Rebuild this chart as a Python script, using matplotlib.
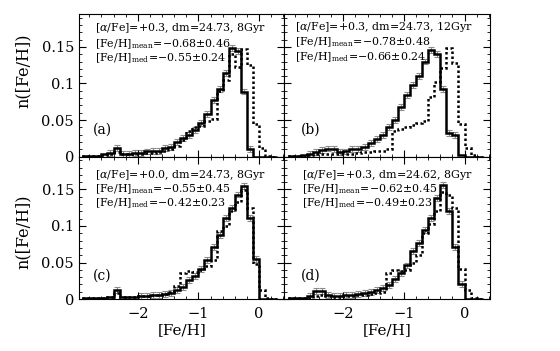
import numpy as np
import matplotlib
matplotlib.use("Agg")
from matplotlib import pyplot as plt
import matplotlib.ticker as ticker

plt.rcParams['font.family'] = ['DejaVu Serif']
plt.rcParams['mathtext.fontset'] = 'dejavuserif'

# bin edges for [Fe/H], 0.1 dex bins
edges = np.round(np.arange(-2.9, 0.31, 0.1), 2)

# (a) alpha=+0.3, dm=24.73, 8Gyr
solid_a = [0.001, 0.001, 0.001, 0.003, 0.005, 0.012, 0.004, 0.004, 0.005, 0.005, 0.007,
           0.008, 0.008, 0.012, 0.013, 0.020, 0.025, 0.030, 0.036, 0.046, 0.058, 0.077,
           0.092, 0.114, 0.148, 0.145, 0.089, 0.010, 0.0, 0.0, 0.0, 0.0]
dot_a = [0.001, 0.001, 0.001, 0.002, 0.003, 0.006, 0.003, 0.003, 0.004, 0.004, 0.005,
         0.005, 0.006, 0.007, 0.010, 0.014, 0.022, 0.035, 0.040, 0.042, 0.048, 0.052,
         0.090, 0.105, 0.140, 0.122, 0.147, 0.125, 0.045, 0.012, 0.001, 0.0]
# (b) alpha=+0.3, dm=24.73, 12Gyr
solid_b = [0.001, 0.001, 0.002, 0.004, 0.006, 0.009, 0.011, 0.010, 0.006, 0.007, 0.010,
           0.010, 0.013, 0.018, 0.024, 0.030, 0.040, 0.050, 0.068, 0.084, 0.098, 0.110,
           0.130, 0.146, 0.140, 0.092, 0.032, 0.030, 0.002, 0.0, 0.0, 0.0]
dot_b = [0.001, 0.001, 0.001, 0.002, 0.003, 0.004, 0.004, 0.004, 0.003, 0.004, 0.004,
         0.005, 0.006, 0.006, 0.008, 0.008, 0.010, 0.035, 0.038, 0.040, 0.043, 0.046,
         0.048, 0.082, 0.102, 0.121, 0.148, 0.128, 0.044, 0.012, 0.002, 0.0]
# (c) alpha=+0.0, dm=24.73, 8Gyr
solid_c = [0.001, 0.001, 0.001, 0.002, 0.003, 0.012, 0.003, 0.003, 0.003, 0.004, 0.004,
           0.005, 0.006, 0.007, 0.008, 0.012, 0.017, 0.026, 0.032, 0.041, 0.053, 0.071,
           0.088, 0.111, 0.125, 0.143, 0.155, 0.111, 0.055, 0.0, 0.0, 0.0]
dot_c = [0.001, 0.001, 0.001, 0.002, 0.003, 0.008, 0.003, 0.003, 0.003, 0.004, 0.004,
         0.005, 0.006, 0.007, 0.009, 0.018, 0.036, 0.038, 0.037, 0.040, 0.045, 0.053,
         0.093, 0.100, 0.120, 0.133, 0.149, 0.125, 0.048, 0.012, 0.001, 0.0]
# (d) alpha=+0.3, dm=24.62, 8Gyr
solid_d = [0.001, 0.001, 0.002, 0.004, 0.011, 0.011, 0.005, 0.004, 0.004, 0.005, 0.006,
           0.007, 0.008, 0.010, 0.012, 0.015, 0.019, 0.028, 0.035, 0.046, 0.066, 0.077,
           0.095, 0.111, 0.138, 0.156, 0.120, 0.071, 0.021, 0.0, 0.0, 0.0]
dot_d = [0.001, 0.001, 0.001, 0.002, 0.004, 0.006, 0.004, 0.003, 0.003, 0.004, 0.004,
         0.005, 0.006, 0.007, 0.008, 0.010, 0.035, 0.040, 0.038, 0.040, 0.050, 0.060,
         0.090, 0.103, 0.120, 0.146, 0.143, 0.125, 0.041, 0.012, 0.001, 0.0]

err = 0.004

labels = ['(a)', '(b)', '(c)', '(d)']
line1 = [r'[$\alpha$/Fe]=+0.3, dm=24.73, 8Gyr',
         r'[$\alpha$/Fe]=+0.3, dm=24.73, 12Gyr',
         r'[$\alpha$/Fe]=+0.0, dm=24.73, 8Gyr',
         r'[$\alpha$/Fe]=+0.3, dm=24.62, 8Gyr']
line2 = [r'[Fe/H]$_{\rm mean}$=$-$0.68$\pm$0.46',
         r'[Fe/H]$_{\rm mean}$=$-$0.78$\pm$0.48',
         r'[Fe/H]$_{\rm mean}$=$-$0.55$\pm$0.45',
         r'[Fe/H]$_{\rm mean}$=$-$0.62$\pm$0.45']
line3 = [r'[Fe/H]$_{\rm med}$=$-$0.55$\pm$0.24',
         r'[Fe/H]$_{\rm med}$=$-$0.66$\pm$0.24',
         r'[Fe/H]$_{\rm med}$=$-$0.42$\pm$0.23',
         r'[Fe/H]$_{\rm med}$=$-$0.49$\pm$0.23']

solids = [solid_a, solid_b, solid_c, solid_d]
dots = [dot_a, dot_b, dot_c, dot_d]

fig, axes = plt.subplots(2, 2, figsize=(5.6, 3.51), dpi=100, sharex=True, sharey=True)
fig.subplots_adjust(left=0.141, right=0.875, top=0.960, bottom=0.148, wspace=0, hspace=0)

centers = 0.5 * (edges[:-1] + edges[1:])
# text positions (axes fraction)
txt_x = [0.078, 0.053, 0.078, 0.087]
txt_y = [[0.90, 0.79, 0.69], [0.91, 0.80, 0.70], [0.87, 0.77, 0.67], [0.87, 0.77, 0.67]]
lab_x = [0.07, 0.078, 0.07, 0.078]
lab_y = [0.19, 0.19, 0.165, 0.165]

for i, ax in enumerate(axes.flat):
    s = np.array(solids[i])
    d = np.array(dots[i])
    m = s > 0.003
    ax.errorbar(centers[m], s[m], yerr=err, fmt='none', ecolor='0.55',
                elinewidth=0.8, capsize=2.5, capthick=0.8, zorder=1)
    ax.stairs(d, edges, color='black', lw=1.8, ls=(0, (1, 1)), zorder=2)
    ax.stairs(s, edges, color='black', lw=1.8, zorder=3)

    ax.set_xlim(-2.97, 0.42)
    ax.set_ylim(0, 0.195)
    ax.xaxis.set_major_locator(ticker.MultipleLocator(1))
    ax.xaxis.set_minor_locator(ticker.MultipleLocator(0.2))
    ax.yaxis.set_major_locator(ticker.FixedLocator([0, 0.05, 0.1, 0.15]))
    ax.yaxis.set_minor_locator(ticker.MultipleLocator(0.01))
    ax.yaxis.set_major_formatter(ticker.FuncFormatter(lambda v, p: '0' if v == 0 else ('%g' % v)))
    ax.tick_params(which='both', direction='in', top=True, right=True, labelsize=10.5)
    ax.tick_params(which='major', length=5, width=0.8)
    ax.tick_params(which='minor', length=2.5, width=0.6)
    ax.tick_params(axis='x', which='major', pad=6)
    for sp in ax.spines.values():
        sp.set_linewidth(0.8)

    t = ax.transAxes
    ax.text(txt_x[i], txt_y[i][0], line1[i], transform=t, fontsize=7.9, va='center')
    ax.text(txt_x[i], txt_y[i][1], line2[i], transform=t, fontsize=7.9, va='center')
    ax.text(txt_x[i], txt_y[i][2], line3[i], transform=t, fontsize=7.9, va='center')
    ax.text(lab_x[i], lab_y[i], labels[i], transform=t, fontsize=10, va='center')

axes[1, 0].set_xlabel('[Fe/H]', fontsize=11, labelpad=1)
axes[1, 1].set_xlabel('[Fe/H]', fontsize=11, labelpad=1)
axes[0, 0].set_ylabel('n([Fe/H])', fontsize=11.5)
axes[1, 0].set_ylabel('n([Fe/H])', fontsize=11.5)
axes[0, 0].yaxis.set_label_coords(-0.23, 0.6)
axes[1, 0].yaxis.set_label_coords(-0.23, 0.47)

fig.savefig('out.png', dpi=100)
